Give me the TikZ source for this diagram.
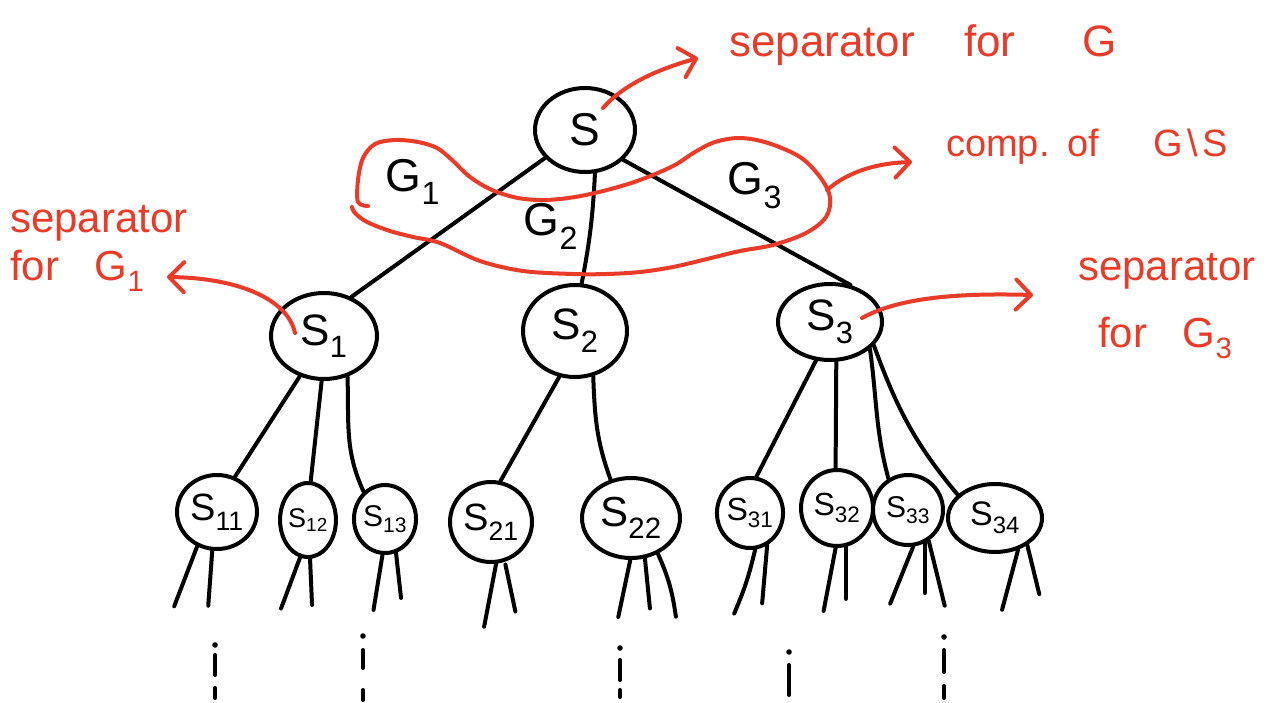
\documentclass[tikz,border=0pt]{standalone}
\usepackage{fontspec}
\setmainfont{Liberation Sans}
\usetikzlibrary{arrows.meta,shapes.geometric,calc}
\definecolor{pen}{RGB}{234,58,40}
\begin{document}
\begin{tikzpicture}[x=1pt,y=-1pt,
  sep/.style={draw, line width=4pt, ellipse, inner sep=0pt},
  fs/.style={font=\fontsize{#1}{#1}\selectfont},
  edge/.style={line width=4pt, line cap=round},
  dotstroke/.style={line width=4pt, line cap=round},
  pline/.style={draw=pen, line width=4pt, line cap=round, line join=round},
  parrow/.style={pline, -{Straight Barb[length=15pt,width=30pt,line cap=round,line join=round]}},
  ptxt/.style={text=pen, inner sep=0pt, anchor=base west},
  glab/.style={inner sep=0pt, font=\fontsize{46}{50}\selectfont}
]
\useasboundingbox (0,0) rectangle (1267,702);
% ---------- separator nodes ----------
\node[sep, minimum width=100pt, minimum height=84pt, fs=46] (S) at (585,130) {S};
\node[sep, minimum width=106pt, minimum height=86pt, fs=44] (S1) at (324,336) {S\textsubscript{1}};
\node[sep, minimum width=104pt, minimum height=92pt, fs=44] (S2) at (575,331) {S\textsubscript{2}};
\node[sep, minimum width=104pt, minimum height=76pt, fs=44] (S3) at (830,322) {S\textsubscript{3}};
\node[sep, minimum width=80pt, minimum height=74pt, fs=38] (S11) at (217,512) {S\textsubscript{11}};
\node[sep, minimum width=50pt, minimum height=74pt, fs=27] (S12) at (308,520) {S\textsubscript{12}};
\node[sep, minimum width=60pt, minimum height=68pt, fs=30] (S13) at (385,519) {S\textsubscript{13}};
\node[sep, minimum width=82pt, minimum height=80pt, fs=38] (S21) at (491,522) {S\textsubscript{21}};
\node[sep, minimum width=98pt, minimum height=80pt, fs=42] (S22) at (631,518) {S\textsubscript{22}};
\node[sep, minimum width=66pt, minimum height=70pt, fs=32] (S31) at (750,513) {S\textsubscript{31}};
\node[sep, minimum width=72pt, minimum height=76pt, fs=32] (S32) at (837,508) {S\textsubscript{32}};
\node[sep, minimum width=70pt, minimum height=70pt, fs=30] (S33) at (908,510) {S\textsubscript{33}};
\node[sep, minimum width=94pt, minimum height=68pt, fs=34] (S34) at (995,518) {S\textsubscript{34}};
% ---------- component labels ----------
\node[glab] (G1) at (413,182) {G\textsubscript{1}};
\node[glab] (G2) at (551,226) {G\textsubscript{2}};
\node[glab] (G3) at (755,186) {G\textsubscript{3}};
% ---------- tree edges ----------
\draw[edge] (S.215) -- (S1.55);
\draw[edge] (S.-77) to[bend left=4] (S2.82);
\draw[edge] (S.-38) -- (S3.61);
\draw[edge] (S1.-121) -- (S11.63);
\draw[edge] (S1.-93) -- (S12.86);
\draw[edge] (S1.-60) to[out=-88,in=115] (S13.128);
\draw[edge] (S2.-109) -- (S21.77);
\draw[edge] (S2.-68) to[out=-88,in=110] (S22.118);
\draw[edge] (S3.-110) -- (S31.80);
\draw[edge] (S3.-81) -- (S32.92);
\draw[edge] (S3.-34) to[out=-82,in=105] (S33.122);
\draw[edge] (S3.-28) to[out=-70,in=130] (S34.148);
% ---------- stubs below the leaves ----------
\draw[edge] (S11.-120) -- ++(-23,60);
\draw[edge] (S11.-97) -- ++(-4,55);
\draw[edge] (S12.-102) -- ++(-19,51);
\draw[edge] (S12.-87) -- ++(2,46);
\draw[edge] (S13.-94) -- ++(-9,55);
\draw[edge] (S13.-72) -- ++(5,45);
\draw[edge] (S21.-83) -- ++(-12,63);
\draw[edge] ([shift={(0,3)}]S21.-70) -- ++(10,47);
\draw[edge] (S22.-91) -- ++(-12,57);
\draw[edge] (S22.-71) -- ++(5,50);
\draw[edge] (S22.-53) to[bend left=8] ++(18,63);
\draw[edge] (S31.-82) to[bend left=5] ++(-21,64);
\draw[edge] (S31.-62) -- ++(-5,58);
\draw[edge] (S32.-92) -- ++(-12,63);
\draw[edge] (S32.-77) -- ++(0,52);
\draw[edge] (S33.-82) -- ++(-23,57);
\draw[edge] (S33.-63) -- ++(0,50);
\draw[edge] (S33.-56) -- ++(16,65);
\draw[edge] (S34.-54) -- ++(-16,60);
\draw[edge] (S34.-40) -- ++(12,49);
% ---------- vertical ellipses ----------
\foreach \x/\a/\b/\c/\d/\e in {215/645/655/675/688/698, 363/636/650/668/690/700, 620/648/660/680/690/697, 789/652/665/690/690/695, 944/637/650/672/686/698}{
  \fill (\x,\a) circle (2.8pt);
  \draw[dotstroke] (\x,\b) -- (\x,\c);
  \draw[dotstroke] (\x,\d) -- (\x,\e);
}
% ---------- red annotations ----------
\node[ptxt, fs=44] (sepG) at (729,56) {separator\hspace{37pt} for\hspace{55pt} G};
\node[ptxt, fs=38] (comp) at (946,156) {comp.\hspace{4pt} of\hspace{44pt} G\hspace{4pt}\textbackslash\hspace{4pt}S};
\node[ptxt, fs=42] (sep1a) at (10,232) {separator};
\node[ptxt, fs=42] (sep1b) at (10,280) {for\hspace{24pt} G\textsubscript{1}};
\node[ptxt, fs=42] (sep3a) at (1078,280) {separator};
\node[ptxt, fs=42] (sep3b) at (1098,347) {for\hspace{24pt} G\textsubscript{3}};
% blob around the components
\draw[pline] plot[smooth, tension=0.55] coordinates {(368,206) (358,202) (358,180) (363,158) (375,144) (395,140) (418,142) (437,148) (452,160) (470,177) (492,190) (518,198) (545,200) (575,197) (607,190) (640,180) (673,166) (695,152) (715,142) (740,138) (768,143) (800,157) (820,177) (830,197) (826,217) (806,233) (773,245) (740,251) (707,259) (673,267) (640,272) (607,274) (573,274) (523,271) (480,261) (440,243) (413,237) (390,231) (367,222) (355,213) (352,207)};
\coordinate (blobR) at (827,190);
% arrows
\draw[parrow] ($(S.center)+(18,-22)$) .. controls (622,86) and (655,70) .. ($(sepG.base west)+(-31,2)$);
\draw[parrow] (blobR) .. controls (850,170) and (880,163) .. ($(comp.base west)+(-34,6)$);
\draw[parrow] ($(S1.center)+(-29,-3)$) .. controls (288,300) and (240,278) .. ($(sep1b.base west)+(157,-3)$);
\draw[parrow] ($(S3.center)+(32,-4)$) .. controls (900,297) and (960,293) .. ($(sep3a.base west)+(-45,15)$);
\end{tikzpicture}
\end{document}
